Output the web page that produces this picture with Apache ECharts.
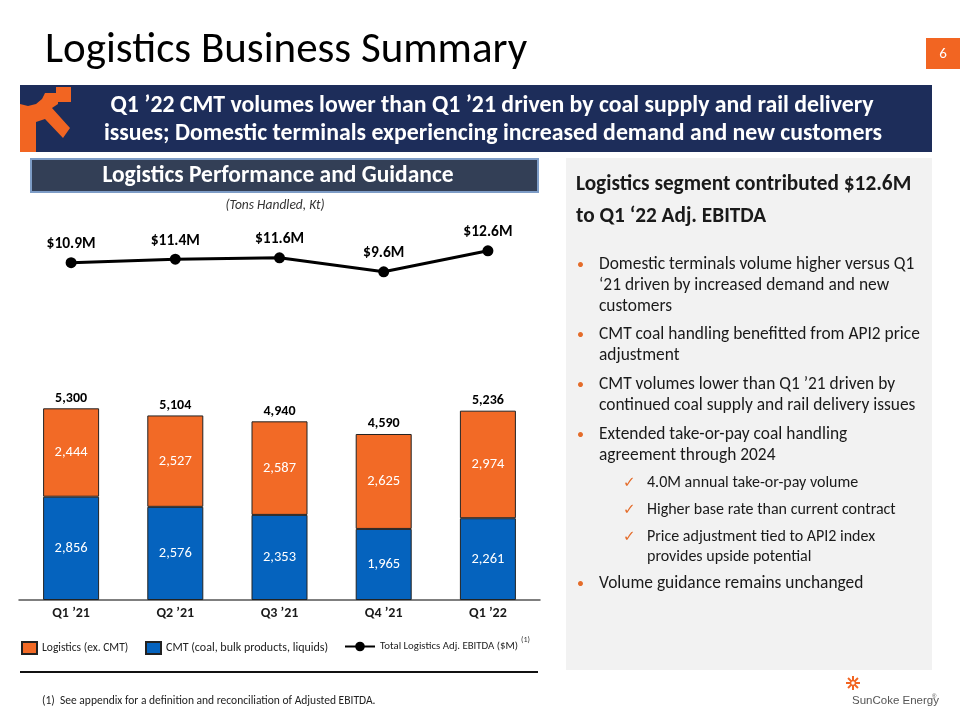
<!DOCTYPE html>
<html>
<head>
<meta charset="utf-8">
<script src="https://cdn.jsdelivr.net/npm/echarts@6/dist/echarts.min.js"></script>
<style>
html,body{margin:0;padding:0;background:#fff;}
#main{width:960px;height:720px;}
</style>
</head>
<body>
<div id="main"></div>
<script>
// ---- data ----
var categories = ["Q1 \u201921", "Q2 \u201921", "Q3 \u201921", "Q4 \u201921", "Q1 \u201922"];
var cmtVolumes = [2856, 2576, 2353, 1965, 2261];
var logisticsExCmt = [2444, 2527, 2587, 2625, 2974];
var totalVolumes = [5300, 5104, 4940, 4590, 5236];
var adjEbitda = [10.9, 11.4, 11.6, 9.6, 12.6];

var seriesNames = ["Logistics (ex. CMT)", "CMT (coal, bulk products, liquids)", "Total Logistics Adj. EBITDA ($M)"];

var FONT = "Carlito, Calibri, Lato, 'Noto Sans', sans-serif";
var ORANGE = "#F26A26";
var BLUE = "#0563BE";
var TEXT = "#1a1a1a";

function fmt(v){ return v.toLocaleString("en-US"); }

var chart = echarts.init(document.getElementById("main"), null, {renderer: "canvas"});

var bullets = [
  {y: 265, t: "Domestic terminals volume higher versus Q1"},
  {y: 286, t: "\u201821 driven by increased demand and new", c: true},
  {y: 307, t: "customers", c: true},
  {y: 335, t: "CMT coal handling benefitted from API2 price"},
  {y: 356, t: "adjustment", c: true},
  {y: 385, t: "CMT volumes lower than Q1 \u201921 driven by"},
  {y: 406, t: "continued coal supply and rail delivery issues", c: true},
  {y: 435, t: "Extended take-or-pay coal handling"},
  {y: 456, t: "agreement through 2024", c: true},
  {y: 584, t: "Volume guidance remains unchanged"}
];
var checks = [
  {y: 483, t: "4.0M annual take-or-pay volume"},
  {y: 510, t: "Higher base rate than current contract"},
  {y: 537, t: "Price adjustment tied to API2 index"},
  {y: 557, t: "provides upside potential", c: true}
];

var graphics = [];
// title
graphics.push({type: "text", left: 45, top: 30, style: {text: "Logistics Business Summary", font: "43px " + FONT, fill: "#000"}});
// page number
graphics.push({type: "rect", shape: {x: 926, y: 38, width: 34, height: 31}, style: {fill: "#F26522"}});
graphics.push({type: "text", x: 943, y: 54, style: {text: "6", font: "15px " + FONT, fill: "#fff", textAlign: "center", textVerticalAlign: "middle"}});
// banner
graphics.push({type: "rect", shape: {x: 20, y: 85, width: 912, height: 67}, style: {fill: "#1d2d5a"}});
// banner logo (orange shapes)
graphics.push({type: "rect", shape: {x: 56, y: 87, width: 15, height: 15}, style: {fill: "#F26522"}});
graphics.push({type: "polygon", shape: {points: [[20,104],[28,106],[36,104],[42,99],[45,93],[58,93],[58,104],[52,108],[70,128],[63,138],[45,119],[36,122],[36,152],[20,152]]}, style: {fill: "#F26522"}});
graphics.push({type: "text", x: 492, y: 106, style: {text: "Q1 \u201922 CMT volumes lower than Q1 \u201921 driven by coal supply and rail delivery", font: "bold 23.8px " + FONT, fill: "#fff", textAlign: "center", textVerticalAlign: "middle"}});
graphics.push({type: "text", x: 493, y: 134, style: {text: "issues; Domestic terminals experiencing increased demand and new customers", font: "bold 23.8px " + FONT, fill: "#fff", textAlign: "center", textVerticalAlign: "middle"}});
// left header box
graphics.push({type: "rect", shape: {x: 31, y: 159, width: 507, height: 33}, style: {fill: "#333f56", stroke: "#7d9cc6", lineWidth: 2}});
graphics.push({type: "text", x: 278, y: 176, style: {text: "Logistics Performance and Guidance", font: "bold 23.5px " + FONT, fill: "#fff", textAlign: "center", textVerticalAlign: "middle"}});
graphics.push({type: "text", x: 275, y: 206, style: {text: "(Tons Handled, Kt)", font: "italic 13.5px " + FONT, fill: "#333", textAlign: "center", textVerticalAlign: "middle"}});
// legend superscript
graphics.push({type: "text", x: 521, y: 640, style: {text: "(1)", font: "8px " + FONT, fill: "#333", textAlign: "left", textVerticalAlign: "middle"}});
// divider
graphics.push({type: "line", shape: {x1: 20, y1: 672, x2: 538, y2: 672}, style: {stroke: "#111", lineWidth: 2}});
// footnote
graphics.push({type: "text", x: 42, y: 701, style: {text: "(1)  See appendix for a definition and reconciliation of Adjusted EBITDA.", font: "11.5px " + FONT, fill: "#222", textVerticalAlign: "middle"}});
// right panel
graphics.push({type: "rect", shape: {x: 566, y: 158, width: 366, height: 512}, style: {fill: "#F2F2F2"}});
graphics.push({type: "text", x: 576, y: 185, style: {text: "Logistics segment contributed $12.6M", font: "bold 21.3px " + FONT, fill: TEXT, textVerticalAlign: "middle"}});
graphics.push({type: "text", x: 576, y: 217, style: {text: "to Q1 \u201822 Adj. EBITDA", font: "bold 21.3px " + FONT, fill: TEXT, textVerticalAlign: "middle"}});
bullets.forEach(function(b){
  if (!b.c) graphics.push({type: "text", x: 577, y: b.y, style: {text: "\u2022", font: "14px " + FONT, fill: "#E46C2A", textVerticalAlign: "middle"}});
  graphics.push({type: "text", x: 599, y: b.y, style: {text: b.t, font: "17.4px " + FONT, fill: TEXT, textVerticalAlign: "middle"}});
});
checks.forEach(function(b){
  if (!b.c) graphics.push({type: "text", x: 623, y: b.y, style: {text: "\u2713", font: "15px 'DejaVu Sans'", fill: "#E46C2A", textVerticalAlign: "middle"}});
  graphics.push({type: "text", x: 647, y: b.y, style: {text: b.t, font: "16px " + FONT, fill: TEXT, textVerticalAlign: "middle"}});
});
// SunCoke logo
(function(){
  var cx = 853, cy = 683, rays = [];
  for (var i = 0; i < 8; i++) {
    var a = i * Math.PI / 4;
    rays.push({type: "line", shape: {x1: cx + Math.cos(a) * 3, y1: cy + Math.sin(a) * 3, x2: cx + Math.cos(a) * 7, y2: cy + Math.sin(a) * 7}, style: {stroke: "#F26522", lineWidth: 2}});
  }
  rays.push({type: "circle", shape: {cx: cx, cy: cy, r: 2.5}, style: {fill: "none", stroke: "#F26522", lineWidth: 1.5}});
  graphics.push({type: "group", children: rays});
})();
graphics.push({type: "text", x: 852, y: 701, style: {text: "SunCoke Energy", font: "11.5px 'Liberation Sans Narrow', 'Arial Narrow', sans-serif", fill: "#555", textVerticalAlign: "middle"}});
graphics.push({type: "text", x: 932, y: 696, style: {text: "\u00AE", font: "6px sans-serif", fill: "#555", textVerticalAlign: "middle"}});

var option = {
  backgroundColor: "#fff",
  animation: false,
  textStyle: {fontFamily: FONT},
  graphic: graphics,
  legend: [
    {data: [seriesNames[0]], left: 21, top: 641, padding: 0, itemWidth: 15, itemHeight: 12,
     textStyle: {fontFamily: FONT, fontSize: 11.5, color: "#222"}, icon: "rect", selectedMode: false},
    {data: [seriesNames[1]], left: 145, top: 641, padding: 0, itemWidth: 15, itemHeight: 12,
     textStyle: {fontFamily: FONT, fontSize: 12, color: "#222"}, icon: "rect", selectedMode: false},
    {data: [seriesNames[2]], left: 344, top: 641, padding: 0, itemWidth: 30, itemHeight: 12,
     textStyle: {fontFamily: FONT, fontSize: 10.8, color: "#222"}, selectedMode: false}
  ],
  grid: [
    {left: 19, width: 521, top: 241, height: 42},
    {left: 19, width: 521, top: 383, height: 217}
  ],
  xAxis: [
    {type: "category", gridIndex: 0, data: categories, show: false},
    {type: "category", gridIndex: 1, data: categories,
     axisLine: {lineStyle: {color: "#555", width: 1.5}}, axisTick: {show: false},
     axisLabel: {fontFamily: FONT, fontSize: 14, fontWeight: "bold", color: "#1a1a1a", margin: 6}}
  ],
  yAxis: [
    {type: "value", gridIndex: 0, min: 8, max: 14, show: false},
    {type: "value", gridIndex: 1, min: 0, max: 6000, show: false}
  ],
  series: [
    {name: seriesNames[2], type: "line", xAxisIndex: 0, yAxisIndex: 0, data: adjEbitda,
     lineStyle: {color: "#000", width: 3}, itemStyle: {color: "#000"},
     symbol: "circle", symbolSize: 11,
     label: {show: true, position: "top", distance: 5, fontFamily: FONT, fontSize: 15.5, fontWeight: "bold", color: "#000",
             formatter: function(p){ return "$" + p.value.toFixed(1) + "M"; }}},
    {name: seriesNames[1], type: "bar", xAxisIndex: 1, yAxisIndex: 1, stack: "vol", data: cmtVolumes, barWidth: 56,
     itemStyle: {color: BLUE, borderColor: "#222", borderWidth: 1},
     label: {show: true, position: "inside", fontFamily: FONT, fontSize: 14.5, color: "#fff",
             formatter: function(p){ return fmt(p.value); }}},
    {name: seriesNames[0], type: "bar", xAxisIndex: 1, yAxisIndex: 1, stack: "vol", data: logisticsExCmt, barWidth: 56,
     itemStyle: {color: ORANGE, borderColor: "#222", borderWidth: 1},
     label: {show: true, position: "inside", fontFamily: FONT, fontSize: 14.5, color: "#fff",
             formatter: function(p){ return fmt(p.value); }}},
    {name: "Total", type: "bar", xAxisIndex: 1, yAxisIndex: 1, data: totalVolumes, barWidth: 56, barGap: "-100%", z: 1,
     itemStyle: {color: "rgba(0,0,0,0)"}, silent: true,
     label: {show: true, position: "top", distance: 3, fontFamily: FONT, fontSize: 14, fontWeight: "bold", color: "#000",
             formatter: function(p){ return fmt(p.value); }}}
  ]
};
chart.setOption(option);
</script>
</body>
</html>
